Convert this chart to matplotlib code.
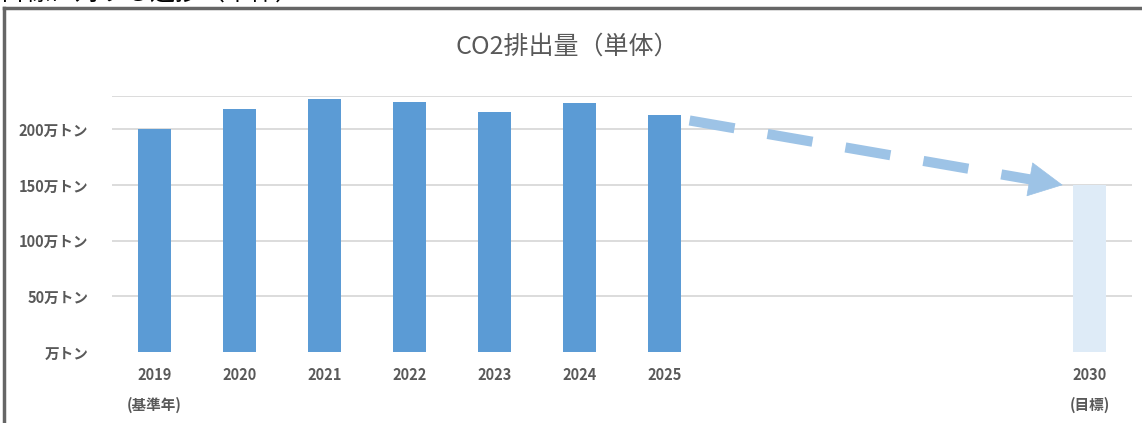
import matplotlib.pyplot as plt
import numpy as np

plt.rcParams['font.family'] = ['Noto Sans CJK JP', 'DejaVu Sans']

# data (万トン)
categories = ['2019\n(基準年)', '2020', '2021', '2022', '2023', '2024', '2025',
              '', '', '', '', '2030\n(目標)']
values = [200, 218, 227.5, 225, 215.5, 223.5, 213,
          np.nan, np.nan, np.nan, np.nan, 150]
is_target = [False] * 11 + [True]
ytick_vals = [0, 50, 100, 150, 200]
ytick_labels = ['万トン', '50万トン', '100万トン', '150万トン', '200万トン']
y_max = 230

bar_col = '#5B9BD5'
target_col = '#DEEBF7'
arrow_col = '#9DC3E6'
text_col = '#595959'

fig = plt.figure(figsize=(11.42, 4.23), dpi=100)
ax = fig.add_axes([112 / 1142, 1 - 352 / 423, 1020 / 1142, 256 / 423])

x = np.arange(len(categories))
w = 0.39
cols = [target_col if t else bar_col for t in is_target]
ax.bar(x, values, width=w, color=cols, zorder=2)

ax.set_xlim(-0.5, len(categories) - 0.5)
ax.set_ylim(0, y_max)
ax.set_yticks(ytick_vals)
ax.set_yticklabels(ytick_labels)
for v in ytick_vals[1:] + [y_max]:
    ax.axhline(v, color='#D9D9D9', lw=1.3, zorder=1)

ax.set_xticks([i for i, c in enumerate(categories) if c])
ax.set_xticklabels([c for c in categories if c], linespacing=2.0)
ax.tick_params(axis='both', length=0, colors=text_col)
ax.tick_params(axis='x', pad=11, labelsize=10.5)
ax.tick_params(axis='y', pad=17, labelsize=10.5)
for lab in ax.get_xticklabels() + ax.get_yticklabels():
    lab.set_fontweight('bold')
for s in ax.spines.values():
    s.set_visible(False)

# dashed trend arrow from 2025 to the 2030 target
i_last, i_tgt = 6, 11
start = (i_last + w / 2 + 0.1, values[i_last] - 5)
end = (i_tgt - w / 2 - 0.12, values[i_tgt])
p0 = ax.transData.transform(start)
p1 = ax.transData.transform(end)
d = (p1 - p0) / np.hypot(*(p1 - p0))
head_len = 32
base = ax.transData.inverted().transform(p1 - d * head_len)
ax.plot([start[0], base[0]], [start[1], base[1]], color=arrow_col, lw=7.3,
        dashes=(4.5, 3.3), solid_capstyle='butt', zorder=3)
ax.annotate('', xy=end, xytext=base,
            arrowprops=dict(arrowstyle='-|>,head_length=2.35,head_width=1.2',
                            color=arrow_col, lw=0.5, shrinkA=0, shrinkB=0,
                            mutation_scale=10), zorder=3)

fig.text(567 / 1142, 1 - 47 / 423, 'CO2排出量（単体）', ha='center', va='center',
         fontsize=18, color=text_col)

# frame of the chart box and the cut-off heading above it
fig.add_artist(plt.Line2D([4 / 1142, 4 / 1142], [0, 1 - 8 / 423],
                          color='#666666', lw=2.5, transform=fig.transFigure))
fig.add_artist(plt.Line2D([4 / 1142, 1], [1 - 8 / 423, 1 - 8 / 423],
                          color='#666666', lw=2.5, transform=fig.transFigure))
fig.text(0, 1 - 6 / 423, '目標に対する進捗（単体）', ha='left', va='bottom',
         fontsize=18, color='black')

fig.savefig('out.png', dpi=100, facecolor='white')
